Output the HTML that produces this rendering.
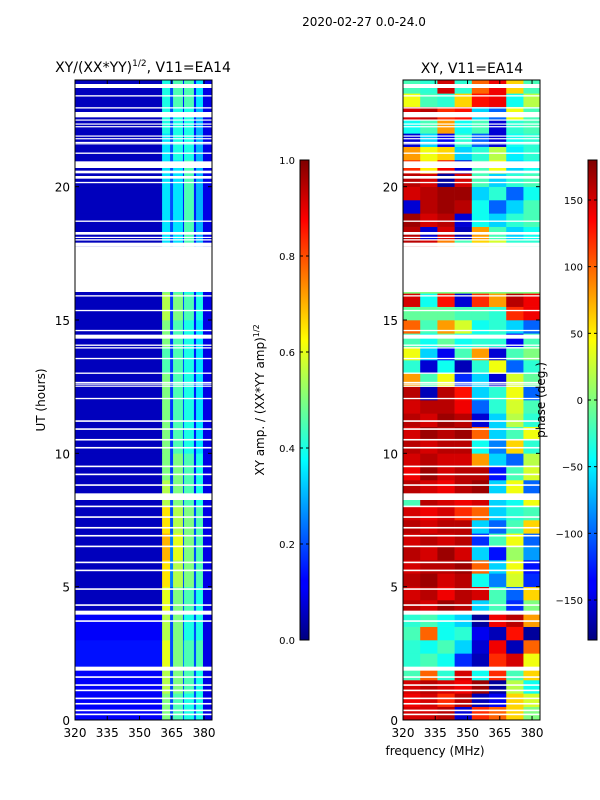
<!DOCTYPE html>
<html><head><meta charset="utf-8">
<style>
body{margin:0;background:#fff;}
svg{display:block;font-family:"DejaVu Sans","Liberation Sans",sans-serif;}
</style></head>
<body>
<svg id="fig" width="600" height="800" viewBox="0 0 600 800">
<text x="364" y="26" font-size="12" text-anchor="middle">2020-02-27 0.0-24.0</text>
<text x="143" y="72" font-size="14" text-anchor="middle">XY/(XX*YY)<tspan font-size="9" dy="-6">1/2</tspan><tspan dy="6">, V11=EA14</tspan></text>
<text x="472" y="73" font-size="14" text-anchor="middle">XY, V11=EA14</text>
<g id="amp"></g>
<g id="phase"></g>
<g id="gaps"></g>
<g id="axes"></g>
<text x="435" y="755" font-size="12" text-anchor="middle">frequency (MHz)</text>
<text transform="translate(45,400) rotate(-90)" font-size="12" text-anchor="middle">UT (hours)</text>
<text transform="translate(264,400) rotate(-90)" font-size="12" text-anchor="middle">XY amp. / (XX*YY amp)<tspan font-size="8" dy="-5">1/2</tspan></text>
<text transform="translate(545,400) rotate(-90)" font-size="12" text-anchor="middle">phase (deg.)</text>
<defs>
<linearGradient id="jet" x1="0" y1="1" x2="0" y2="0">
<stop offset="0" stop-color="#00007f"/><stop offset="0.11" stop-color="#0000ff"/><stop offset="0.125" stop-color="#0000ff"/>
<stop offset="0.375" stop-color="#00ffff"/><stop offset="0.5" stop-color="#7fff7f"/><stop offset="0.625" stop-color="#ffff00"/>
<stop offset="0.875" stop-color="#ff0000"/><stop offset="1" stop-color="#7f0000"/>
</linearGradient>
</defs>
<rect x="300" y="160" width="9" height="480" fill="url(#jet)" stroke="#000" stroke-width="1"/>
<rect x="588" y="160" width="9" height="480" fill="url(#jet)" stroke="#000" stroke-width="1"/>
<g id="cbticks"></g>
</svg>
<script>
// ---- data ----
const ampFreqEdges=[320,360.5,364.2,365.6,370.2,370.7,375.3,376.3,379.5,384];
const ampRows=[
[0.12,0.5,0.2,0.45,0.2,0.4,0.2,0.4,0.1],
[0.12,0.55,0.2,0.5,0.2,0.45,0.2,0.4,0.1],
[0.14,0.6,0.2,0.5,0.25,0.45,0.2,0.45,0.1],
[0.12,0.55,0.2,0.5,0.2,0.4,0.2,0.4,0.1],
[0.06,0.6,0.2,0.5,0.2,0.45,0.2,0.4,0.1],
[0.06,0.65,0.25,0.55,0.2,0.5,0.2,0.45,0.1],
[0.06,0.7,0.25,0.6,0.2,0.5,0.2,0.45,0.1],
[0.06,0.65,0.2,0.55,0.2,0.5,0.2,0.45,0.1],
[0.06,0.55,0.2,0.5,0.2,0.45,0.15,0.4,0.1],
[0.06,0.5,0.18,0.5,0.2,0.45,0.15,0.4,0.1],
[0.06,0.5,0.18,0.45,0.2,0.4,0.15,0.35,0.1],
[0.06,0.5,0.18,0.45,0.2,0.4,0.15,0.35,0.1],
[0.06,0.5,0.18,0.45,0.2,0.4,0.15,0.35,0.1],
[0.06,0.45,0.18,0.45,0.2,0.4,0.15,0.35,0.1],
[0.06,0.5,0.18,0.45,0.2,0.4,0.15,0.35,0.1],
[0.06,0.55,0.18,0.5,0.2,0.45,0.15,0.4,0.1],
[0.06,0.5,0.18,0.45,0.2,0.4,0.15,0.35,0.1],
[0.06,0.35,0.2,0.35,0.15,0.45,0.15,0.3,0.1],
[0.06,0.35,0.2,0.35,0.15,0.45,0.15,0.3,0.1],
[0.06,0.35,0.2,0.35,0.15,0.45,0.15,0.3,0.1],
[0.06,0.35,0.2,0.35,0.15,0.45,0.15,0.3,0.1],
[0.06,0.35,0.2,0.4,0.15,0.4,0.15,0.3,0.1],
[0.06,0.4,0.2,0.4,0.15,0.4,0.15,0.3,0.1],
[0.06,0.4,0.2,0.45,0.15,0.45,0.15,0.35,0.1]];
const phaseFreqEdges=[320,328,336,344,352,360,368,376,384];
const phaseRows=[
[150,150,160,-150,120,100,60,0],
[140,150,120,160,-160,-140,60,30],
[150,160,150,140,170,-170,20,-40],
[-20,100,-30,150,-40,120,-20,60],
[-30,-20,-40,-120,-160,120,150,40],
[-30,-40,-20,-60,-150,140,-160,100],
[-20,100,-40,-30,-140,-160,130,-170],
[-30,-20,-40,-60,-170,140,160,80],
[160,150,170,160,-60,-20,-120,0],
[150,160,140,160,150,-20,-100,60],
[160,170,150,160,-40,-90,30,-120],
[150,160,160,170,100,-60,40,-130],
[160,150,170,150,-60,-130,10,-80],
[150,160,150,160,-120,-20,40,-100],
[160,150,160,160,-60,-100,-20,60],
[150,140,150,120,100,-60,-30,-20],
[-20,160,150,140,150,-60,-40,40],
[160,150,140,160,170,-60,40,-100],
[140,170,150,160,160,-130,-20,30],
[150,160,150,150,80,-60,-100,20],
[160,150,160,160,-40,-90,60,-30],
[150,170,160,170,100,-60,-20,40],
[160,150,170,160,-150,-60,20,-30],
[150,160,160,140,-100,-30,30,-20],
[160,-160,160,130,-60,-30,40,-100],
[80,-20,40,-120,-60,-150,30,-10],
[-30,-150,-40,-160,-30,40,-100,-30],
[40,-60,-140,-20,80,-150,-20,0],
[-20,-40,-10,-40,-30,-30,-140,-20],
[100,-20,80,30,-40,-30,-60,-100],
[-10,-10,-10,-20,-20,-30,120,140],
[150,-40,130,-150,120,80,160,140],
[0,0,0,0,0,0,0,0],[0,0,0,0,0,0,0,0],[0,0,0,0,0,0,0,0],
[160,150,90,-20,60,30,-30,-30],
[160,-150,150,-160,80,-20,-60,-40],
[170,150,160,-150,-40,-60,-30,-20],
[-150,160,170,160,-40,-100,-60,-20],
[150,160,170,170,-60,-30,-100,-40],
[160,150,-170,150,-20,-60,-30,-20],
[120,50,140,-150,-20,40,-60,-40],
[80,40,60,-60,-30,20,-50,-30],
[-150,-60,-140,-30,-100,-150,-40,-30],
[-40,-20,80,-40,-20,-150,-30,-20],
[150,160,120,130,-60,-100,40,-20],
[40,-20,-30,60,130,140,-40,20],
[-20,-30,150,-30,100,140,60,-20]];
const gapSpans=[[0.18,0.24],[0.33,0.39],[0.58,0.64],[0.78,0.84],[1.08,1.14],[1.28,1.34],[1.58,1.64],[1.85,2.0],
[3.68,3.74],[3.95,4.1],[4.28,4.34],[4.88,4.94],[5.58,5.64],[5.88,5.94],[6.48,6.54],[6.88,6.94],[7.18,7.24],[7.58,7.64],[7.98,8.04],
[8.25,8.5],[8.78,8.84],[9.18,9.24],[9.48,9.54],[10.18,10.24],[10.48,10.54],[10.88,10.94],[11.18,11.24],
[12.03,12.08],[12.5,12.54],[12.58,12.62],[12.64,12.68],[12.98,13.03],[13.53,13.58],[13.93,13.98],[14.03,14.08],[14.3,14.45],[14.58,14.63],[15.33,15.38],[15.88,15.93],
[16.05,17.75],[17.75,17.9],[17.98,18.03],[18.08,18.12],[18.2,18.3],[18.68,18.73],[20.13,20.18],[20.3,20.4],[20.5,20.6],[20.7,20.95],[21.23,21.28],
[21.6,21.63],[21.65,21.68],[21.78,21.82],[21.88,21.92],[22.23,22.27],[22.33,22.37],[22.48,22.52],[22.6,22.8],[22.93,22.98],[23.38,23.43],[23.7,23.85]];
const xTicks=[320,335,350,365,380];
const yTicks=[0,5,10,15,20];
const ampCbTicks=[0,0.2,0.4,0.6,0.8,1.0];
const phaseCbTicks=[-150,-100,-50,0,50,100,150];
// ---- scales ----
const NS='http://www.w3.org/2000/svg';
const panels=[{x0:75,x1:212,g:'amp'},{x0:403,x1:540,g:'phase'}];
const Y0=720,Y1=80,FMIN=320,FMAX=383.7,TMAX=24;
function xs(p,f){return p.x0+(f-FMIN)/(FMAX-FMIN)*(p.x1-p.x0);}
function ys(h){return Y0-(h/TMAX)*(Y0-Y1);}
function jet(v){v=Math.max(0,Math.min(1,v));const c=t=>Math.round(255*Math.max(0,Math.min(1,1.5-Math.abs(4*v-t))));return `rgb(${c(3)},${c(2)},${c(1)})`;}
function mk(tag,attrs,parent){const e=document.createElementNS(NS,tag);for(const k in attrs)e.setAttribute(k,attrs[k]);parent.appendChild(e);return e;}
const ga=document.getElementById('amp');
ampRows.forEach((row,i)=>{row.forEach((v,j)=>{const p=panels[0];
const f0=ampFreqEdges[j],f1=Math.min(ampFreqEdges[j+1],FMAX);
const r=mk('rect',{x:xs(p,f0),y:ys(i+1),width:xs(p,f1)-xs(p,f0)+0.3,height:ys(i)-ys(i+1)+0.3,fill:jet(v)},ga);

});});
const gp=document.getElementById('phase');
phaseRows.forEach((row,i)=>{row.forEach((v,j)=>{const p=panels[1];
const f0=phaseFreqEdges[j],f1=Math.min(phaseFreqEdges[j+1],FMAX);
const r=mk('rect',{x:xs(p,f0),y:ys((i+1)/2),width:xs(p,f1)-xs(p,f0)+0.3,height:ys(i/2)-ys((i+1)/2)+0.3,fill:jet((v+180)/360)},gp);

});});
const gg=document.getElementById('gaps');
gapSpans.forEach(s=>{panels.forEach(p=>{
const r=mk('rect',{x:p.x0,y:ys(s[1]),width:p.x1-p.x0,height:Math.max(1.2,ys(s[0])-ys(s[1])),fill:'#fff'},gg);

});});
const gx=document.getElementById('axes');
panels.forEach((p,pi)=>{
const fr=mk('rect',{x:p.x0,y:Y1,width:p.x1-p.x0,height:Y0-Y1,fill:'none',stroke:'#000','stroke-width':1},gx);


xTicks.forEach(t=>{const x=xs(p,t);
mk('line',{x1:x,y1:Y0,x2:x,y2:Y0-4,stroke:'#000'},gx);mk('line',{x1:x,y1:Y1,x2:x,y2:Y1+4,stroke:'#000'},gx);
const tx=mk('text',{x:x,y:Y0+17,'font-size':12,'text-anchor':'middle'},gx);tx.textContent=t;

});
yTicks.forEach(t=>{const y=ys(t);
mk('line',{x1:p.x0,y1:y,x2:p.x0+4,y2:y,stroke:'#000'},gx);mk('line',{x1:p.x1,y1:y,x2:p.x1-4,y2:y,stroke:'#000'},gx);
const tx=mk('text',{x:p.x0-5,y:y+5,'font-size':12,'text-anchor':'end'},gx);tx.textContent=t;

});
});
const gc=document.getElementById('cbticks');
ampCbTicks.forEach(t=>{const y=640-t*480;
mk('line',{x1:300,y1:y,x2:303,y2:y,stroke:'#000'},gc);mk('line',{x1:309,y1:y,x2:306,y2:y,stroke:'#000'},gc);
const tx=mk('text',{x:295,y:y+4,'font-size':10,'text-anchor':'end'},gc);tx.textContent=t.toFixed(1);

});
phaseCbTicks.forEach(t=>{const y=640-(t+180)/360*480;
mk('line',{x1:588,y1:y,x2:591,y2:y,stroke:'#000'},gc);mk('line',{x1:597,y1:y,x2:594,y2:y,stroke:'#000'},gc);
const tx=mk('text',{x:583,y:y+4,'font-size':10,'text-anchor':'end'},gc);tx.textContent=t<0?'\u2212'+(-t):String(t);

});
</script>
</body></html>
